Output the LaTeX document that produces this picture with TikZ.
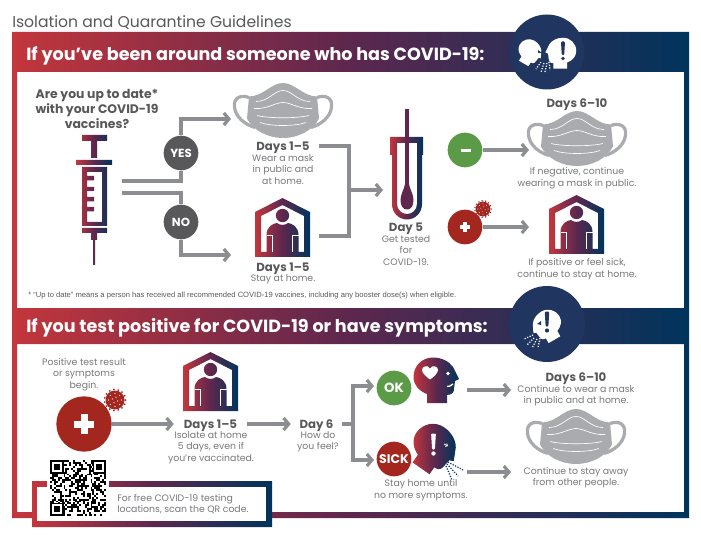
\documentclass[tikz,border=0pt]{standalone}
\usepackage{fontspec}
\setmainfont{Poppins}
\newfontfamily\notefont{Liberation Sans}
\usetikzlibrary{arrows.meta}
\definecolor{covred}{rgb}{0.765, 0.212, 0.235}
\definecolor{covplum}{rgb}{0.365, 0.153, 0.306}
\definecolor{covnavy}{rgb}{0.0, 0.204, 0.361}
\definecolor{covdisc}{rgb}{0.125, 0.208, 0.373}
\definecolor{covgreen}{rgb}{0.357, 0.604, 0.275}
\definecolor{covcrim}{rgb}{0.639, 0.153, 0.122}
\definecolor{covdark}{rgb}{0.345, 0.345, 0.353}
\definecolor{covgray}{rgb}{0.549, 0.553, 0.565}
\definecolor{covtext}{rgb}{0.467, 0.471, 0.482}
\definecolor{covmaskc}{rgb}{0.667, 0.671, 0.682}

\tikzset{
    covgrad/.style={left color=covred, right color=covnavy, middle color=covplum},
    flowline/.style={draw=covgray, line width=2.4pt},
    flowarrow/.style={flowline, -{Straight Barb[length=3.8pt, width=9pt]}},
    bodytext/.style={color=covtext, align=center, inner sep=0pt, font=\fontsize{7}{8.6}\selectfont},
    daylabel/.style={color=covdark, align=center, inner sep=0pt, text depth=0pt, font=\fontsize{8.8}{10}\selectfont\bfseries},
    bandtext/.style={color=white, anchor=west, inner sep=0pt, text depth=0pt, font=\fontsize{13.2}{15}\selectfont\bfseries},
    disc/.style={circle, inner sep=0pt, color=white, font=\fontsize{8.8}{10}\selectfont\bfseries},
    smalldisc/.style={disc, minimum size=26pt},
    spray/.style={line width=0.9pt, dash pattern=on 0.9pt off 1.1pt},
    pics/covmask/.style={code={
        \draw [covmaskc, line width=2.4pt] (-34, -13) .. controls (-42, -16) and (-50, -13) .. (-48.5, -3) .. controls (-47, 7) and (-38, 14) .. (-28, 17);
        \draw [covmaskc, line width=2.4pt] (34, -13) .. controls (42, -16) and (50, -13) .. (48.5, -3) .. controls (47, 7) and (38, 14) .. (28, 17);
        \fill [covmaskc] (-34, -14) .. controls (-20, -14) and (-12, -27.5) .. (0, -27.5) .. controls (12, -27.5) and (20, -14) .. (34, -14)
            -- (36, 8) .. controls (30, 20) and (15, 27.5) .. (0, 27.5) .. controls (-15, 27.5) and (-30, 20) .. (-36, 8) -- cycle;
        \draw [white, line width=0.5pt] (-27, -9) .. controls (-14, -9) and (-9, -20) .. (0, -20) .. controls (9, -20) and (14, -9) .. (27, -9);
        \draw [white, line width=0.5pt] (-29, -2) .. controls (-16, -1) and (-8, -8) .. (0, -8) .. controls (8, -8) and (16, -1) .. (29, -2);
        \draw [white, line width=0.5pt] (-26, 5) .. controls (-14, 8) and (14, 8) .. (26, 5);
        \draw [white, line width=0.5pt] (-23, 12) .. controls (-12, 16) and (12, 16) .. (23, 12);
    }},
    pics/covhouse/.style={code={
        \shade [covgrad, even odd rule] (0, 0) -- (27.5, 14) -- (27.5, 59) -- (-27.5, 59) -- (-27.5, 14) -- cycle
            (0, 7) -- (21.5, 18) -- (21.5, 54) -- (-21.5, 54) -- (-21.5, 18) -- cycle
            (0, 17.5) circle (6.7)
            (-16, 54) -- (-16, 37) .. controls (-16, 29) and (-10, 25.5) .. (-5.5, 25) .. controls (-3, 27.5) and (3, 27.5) .. (5.5, 25)
            .. controls (10, 25.5) and (16, 29) .. (16, 37) -- (16, 54) -- cycle;
        \draw [white, line width=0.25pt] (-16, 37) -- (-10, 37) -- (-10, 54);
        \draw [white, line width=0.25pt] (16, 37) -- (10, 37) -- (10, 54);
    }},
    pics/covvirus/.style={code={
        \fill [covcrim] (0, 0) circle (9.5);
        \foreach \a in {0, 24, ..., 336}
            \fill [covcrim] (\a:10.5) circle (1);
        \foreach \a in {0, 45, ..., 315}
            \fill [white] (\a:6.5) circle (0.6);
        \foreach \a in {20, 110, 200, 290}
            \fill [white] (\a:3) circle (0.6);
    }},
    pics/covhead/.style={code={
        \path [pic actions] (-6, 26) -- (14, 26) -- (14, 18) .. controls (20, 18) and (21, 14) .. (21, 12) -- (22, 4) -- (26, 2) -- (20, -10)
            .. controls (16, -16) and (8, -19.5) .. (0, -19.5) .. controls (-11, -19.5) and (-19.5, -11) .. (-19.5, 0)
            .. controls (-19.5, 8) and (-14, 14) .. (-6, 17) -- cycle;
    }},
    pics/covbang/.style={code={
        \path [pic actions, rounded corners=0.8pt] (-2.4, -10) -- (2.4, -10) -- (1.4, 6) -- (-1.4, 6) -- cycle;
        \path [pic actions] (0, 10) circle (2.2);
    }},
}

\begin{document}
\begin{tikzpicture}[x=0.75pt, y=-0.75pt]

\useasboundingbox (0, 0) rectangle (701, 542);

\node [color=covdark, anchor=west, inner sep=0pt, text depth=0pt, font=\fontsize{11.7}{14}\selectfont] (title) at (12, 22) {Isolation and Quarantine Guidelines};

% frame and bands
\shade [covgrad, even odd rule] (12, 32) rectangle (689, 518) (17, 72) rectangle (684, 308) (17, 344) rectangle (684, 512);
\fill [covdisc] (547, 52) circle (37.5);
\fill [covdisc] (547, 324) circle (38);
\node [bandtext] (bandtop) at (26, 53.5) {If you've been around someone who has COVID-19:};
\node [bandtext] (bandlow) at (26, 325) {If you test positive for COVID-19 or have symptoms:};

% badge heads
\pic [fill=white, rotate=-30, scale=0.55] at (529, 50) {covhead};
\pic [fill=white, xscale=-0.68, yscale=0.68] at (563, 51) {covhead};
\pic [fill=covdisc, scale=0.85] at (563, 50) {covbang};
\fill [covdisc] (538, 50) -- (542, 53) -- (538, 53) -- cycle;
\draw [white, spray] (541, 62) -- (536, 69);
\draw [white, spray] (544, 63) -- (541, 72);
\draw [white, spray] (547, 63) -- (545, 72);
\draw [white, spray] (549, 62) -- (550, 70);
\pic [fill=white, rotate=30, xscale=-0.68, yscale=0.68] at (548, 323) {covhead};
\pic [fill=covdisc, scale=0.95] at (547, 321) {covbang};
\fill [covdisc] (537, 324) -- (541, 321) -- (541, 325) -- cycle;
\draw [white, spray] (533, 335) -- (524, 339);
\draw [white, spray] (534, 338) -- (527, 345);
\draw [white, spray] (537, 339) -- (532, 348);
\draw [white, spray] (540, 338) -- (538, 348);

% top panel, left
\node [daylabel, font=\fontsize{9.3}{11}\selectfont\bfseries] (question) at (97, 109) {Are you up to date*\\with your COVID-19\\vaccines?};
\shade [covgrad, even odd rule] (82, 135) rectangle (107, 141) (91, 141) rectangle (97, 158) (76, 160) rectangle (112, 165)
    (82, 167) rectangle (107, 226) (87, 172) rectangle (102, 222)
    (87, 176) rectangle (94, 180.5) (87, 187) rectangle (94, 191) (87, 197) rectangle (94, 201.5) (87, 207) rectangle (94, 211.5)
    (82, 228) rectangle (107, 233) (91, 233) rectangle (97, 240) (93, 240) rectangle (95, 265);
\coordinate (syringeup) at (122, 181);
\coordinate (syringedown) at (122, 193);
\node [smalldisc, fill=covdark] (yes) at (181, 153) {YES};
\node [smalldisc, fill=covdark] (no) at (181, 222) {NO};
\coordinate (maskin) at (231, 119);
\coordinate (housein) at (231, 255);
\draw [flowline] (syringeup) -| (yes);
\draw [flowarrow] (yes) |- (maskin);
\draw [flowline] (syringedown) -| (no);
\draw [flowarrow] (no) |- (housein);

\pic at (283, 110.5) {covmask};
\node [daylabel, minimum width=54pt] (daysmask) at (283, 146) {Days 1--5};
\node [bodytext] (wearmask) at (283, 169.5) {Wear a mask\\in public and\\at home.};
\pic at (282.5, 198) {covhouse};
\coordinate (houseout) at (319, 236);
\node [daylabel] (dayshome) at (283, 267) {Days 1--5};
\node [bodytext] (stayhome) at (283, 279.5) {Stay at home.};

\coordinate (join) at (349, 190);
\coordinate (tubein) at (383, 190);
\draw [flowline] (daysmask.east) -| (join) |- (houseout);
\draw [flowarrow] (join) -- (tubein);

% swab and tube
\fill [covplum] (405, 109) rectangle (409, 186);
\fill [covplum] (405, 184) .. controls (404, 190) and (400.5, 194) .. (400.5, 200) .. controls (400.5, 206) and (403, 209.5) .. (407, 209.5)
    .. controls (411, 209.5) and (413.5, 206) .. (413.5, 200) .. controls (413.5, 194) and (410, 190) .. (409, 184) -- cycle;
\shade [covgrad, even odd rule] (390, 137) -- (405, 137) -- (405, 143) -- (397, 143) -- (397, 204) .. controls (397, 210) and (402, 214) .. (407, 214)
    .. controls (412, 214) and (417, 210) .. (417, 204) -- (417, 143) -- (409, 143) -- (409, 137) -- (423, 137) -- (423, 155) -- (422, 155) -- (422, 204)
    .. controls (422, 213) and (415, 219.5) .. (407, 219.5) .. controls (399, 219.5) and (392, 213) .. (392, 204) -- (392, 155) -- (390, 155) -- cycle;
\node [daylabel] (dayfive) at (406, 227) {Day 5};
\node [bodytext] (gettested) at (406, 250.5) {Get tested\\for\\COVID-19.};

% top panel, right
\node [daylabel] (dayssix) at (577, 103) {Days 6--10};
\pic at (577, 138.5) {covmask};
\node [smalldisc, fill=covgreen] (minus) at (465, 150) {};
\fill [white] (460.5, 149) rectangle (470.5, 152.5);
\coordinate (maskout) at (529, 150);
\draw [flowarrow] (minus) -- (maskout);
\node [bodytext] (negative) at (577, 178) {If negative, continue\\wearing a mask in public.};
\node [smalldisc, fill=covcrim] (plus) at (465, 227) {};
\fill [white] (463.2, 222) rectangle (466.8, 232);
\fill [white] (460, 225.2) rectangle (470, 228.8);
\pic [scale=0.78] at (483, 209) {covvirus};
\coordinate (homein) at (529, 227);
\draw [flowarrow] (plus) -- (homein);
\pic at (576.5, 195) {covhouse};
\node [bodytext] (positive) at (577, 269) {If positive or feel sick,\\continue to stay at home.};

\node [anchor=west, color=covdark, inner sep=0pt, font=\notefont\fontsize{5.7}{7}\selectfont] (footnote) at (28, 296)
    {* “Up to date” means a person has received all recommended COVID-19 vaccines, including any booster dose(s) when eligible.};

% lower panel
\node [bodytext] (beginning) at (84, 374.5) {Positive test result\\or symptoms\\begin.};
\node [circle, inner sep=0pt, minimum size=41.5pt, fill=covcrim] (start) at (84, 424) {};
\fill [white] (80.5, 414) rectangle (87.5, 433.5);
\fill [white] (74, 420.5) rectangle (94, 427.5);
\pic at (115, 400) {covvirus};
\pic at (210.5, 352) {covhouse};
\node [daylabel, minimum width=54.75pt] (isolate) at (210.5, 424) {Days 1--5};
\node [bodytext] (isolatetext) at (211, 447.5) {Isolate at home\\5 days, even if\\you're vaccinated.};
\node [daylabel, minimum width=38.25pt] (daysix) at (316.5, 424) {Day 6};
\node [bodytext] (howfeel) at (318, 442) {How do\\you feel?};
\draw [flowarrow] (start) -- (isolate);
\draw [flowarrow] (isolate) -- (daysix);

\node [smalldisc, fill=covgreen, font=\fontsize{10}{12}\selectfont\bfseries] (ok) at (394, 388) {OK};
\node [smalldisc, fill=covcrim, font=\fontsize{9.4}{11}\selectfont\bfseries] (sick) at (394, 459) {SICK};
\coordinate (fork) at (353, 424);
\coordinate (okin) at (374, 386);
\coordinate (sickin) at (374, 460);
\draw [flowline] (daysix) -- (fork);
\draw [flowarrow] (fork) |- (okin);
\draw [flowarrow] (fork) |- (sickin);

\pic [covgrad] at (433, 377) {covhead};
\fill [white] (430, 379.5) .. controls (425, 376) and (422, 372.5) .. (422, 370) .. controls (422, 366) and (428, 364.5) .. (430, 368.5)
    .. controls (432, 364.5) and (438, 366) .. (438, 370) .. controls (438, 372.5) and (435, 376) .. (430, 379.5) -- cycle;
\fill [white] (448, 373.5) circle (1.8);
\draw [white, line width=1pt] (447, 386.5) .. controls (449, 386.5) and (451, 386) .. (453, 384);
\pic [covgrad, rotate=-35, scale=1.03] at (433, 444) {covhead};
\pic [fill=white] at (433.5, 443.5) {covbang};
\draw [white, line width=0.6pt, -{Straight Barb[length=1.3pt, width=2.5pt]}] (444, 444) -- (448, 446);
\draw [covnavy, spray] (448, 462) -- (463, 470);
\draw [covnavy, spray] (447, 464) -- (458, 476);
\draw [covnavy, spray] (446, 466) -- (452, 480);

\coordinate (okout) at (467, 390);
\coordinate (okend) at (511, 390);
\coordinate (sickout) at (467, 472);
\coordinate (sickend) at (511, 472);
\draw [flowarrow] (okout) -- (okend);
\draw [flowarrow] (sickout) -- (sickend);
\node [daylabel] (dayslate) at (576, 377) {Days 6--10};
\node [bodytext] (wearon) at (576, 395.5) {Continue to wear a mask\\in public and at home.};
\pic at (576, 436.5) {covmask};
\node [bodytext] (stayaway) at (576, 477.5) {Continue to stay away\\from other people.};
\node [bodytext] (stayuntil) at (421, 490) {Stay home until\\no more symptoms.};

% QR box
\shade [covgrad, even odd rule] (32, 481) rectangle (272, 527) (37, 487) rectangle (266, 521);
\fill [white] (37, 487) rectangle (266, 521);
\fill [white] (47, 458) rectangle (109, 518);
\pgfmathsetseed{41}
\foreach \i in {0, ..., 28}
    \foreach \j in {0, ..., 28} {
        \pgfmathrandominteger{\qrbit}{0}{1}
        \ifnum\qrbit=1
            \fill (50 + \i*1.93, 460 + \j*1.93) rectangle ++(1.95, 1.95);
        \fi
    }
\foreach \cx/\cy in {50/460, 92.5/460, 50/502.5} {
    \fill [white] (\cx, \cy) rectangle ++(13.5, 13.5);
    \fill (\cx, \cy) rectangle ++(13.5, 13.5);
    \fill [white] (\cx + 1.9, \cy + 1.9) rectangle ++(9.7, 9.7);
    \fill (\cx + 3.8, \cy + 3.8) rectangle ++(5.9, 5.9);
}
\node [bodytext, align=left, anchor=west] (scantext) at (117, 504) {For free COVID-19 testing\\locations, scan the QR code.};

\end{tikzpicture}
\end{document}
